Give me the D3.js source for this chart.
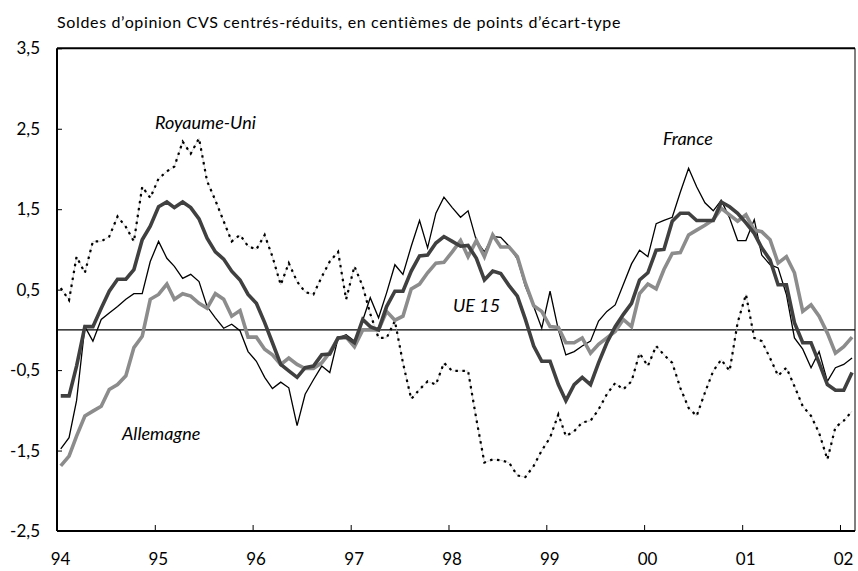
<!DOCTYPE html>
<html>
<head>
<meta charset="utf-8">
<script src="https://cdn.jsdelivr.net/npm/d3@7"></script>
<style>
  html, body { margin: 0; padding: 0; background: #fff; }
  svg { display: block; font-family: Lato, "Open Sans", sans-serif; }
</style>
</head>
<body>
<div id="chart"></div>
<script>
// monthly data, January 1994 to February 2002
const startYear = 1994;
const yTicks = [-2.5, -1.5, -0.5, 0.5, 1.5, 2.5, 3.5];

const ue15 = [
  -0.82, -0.82, -0.45, 0.04, 0.04, 0.27, 0.48, 0.63, 0.63, 0.75, 1.12, 1.29,
  1.53, 1.59, 1.52, 1.59, 1.52, 1.38, 1.14, 0.97, 0.88, 0.73, 0.62, 0.44,
  0.33, 0.09, -0.16, -0.43, -0.51, -0.59, -0.47, -0.45, -0.31, -0.30, -0.10, -0.09,
  -0.16, 0.13, 0.04, 0.00, 0.29, 0.48, 0.48, 0.73, 0.92, 0.93, 1.08, 1.16,
  1.10, 1.04, 1.05, 0.89, 0.62, 0.73, 0.70, 0.55, 0.42, 0.13, -0.20, -0.39,
  -0.39, -0.68, -0.88, -0.68, -0.59, -0.68, -0.41, -0.16, 0.04, 0.19, 0.33, 0.62,
  0.71, 0.99, 1.00, 1.35, 1.45, 1.45, 1.36, 1.36, 1.36, 1.59, 1.53, 1.45,
  1.33, 1.20, 1.02, 0.87, 0.56, 0.56, 0.09, -0.16, -0.16, -0.41, -0.68, -0.75,
  -0.75, -0.53
];

const allemagne = [
  -1.69, -1.57, -1.32, -1.07, -1.01, -0.95, -0.74, -0.68, -0.57, -0.22, -0.08, 0.38,
  0.44, 0.57, 0.38, 0.45, 0.42, 0.33, 0.27, 0.45, 0.38, 0.17, 0.24, -0.09,
  -0.09, -0.24, -0.31, -0.43, -0.35, -0.43, -0.48, -0.48, -0.41, -0.28, -0.10, -0.09,
  -0.21, 0.00, 0.00, 0.00, 0.23, 0.12, 0.17, 0.51, 0.57, 0.71, 0.83, 0.84,
  0.97, 1.11, 0.91, 1.11, 0.91, 1.18, 1.03, 1.03, 0.91, 0.58, 0.30, 0.23,
  0.04, 0.03, -0.16, -0.16, -0.10, -0.29, -0.18, -0.10, -0.02, 0.13, 0.04, 0.45,
  0.57, 0.51, 0.75, 0.95, 0.96, 1.18, 1.24, 1.30, 1.37, 1.51, 1.43, 1.35,
  1.43, 1.24, 1.22, 1.12, 0.83, 0.91, 0.71, 0.23, 0.31, 0.17, -0.04, -0.29,
  -0.21, -0.09
];

const france = [
  -1.48, -1.34, -0.88, 0.04, -0.14, 0.13, 0.21, 0.29, 0.38, 0.45, 0.45, 0.85,
  1.10, 0.89, 0.79, 0.64, 0.69, 0.60, 0.29, 0.15, 0.02, 0.07, -0.01, -0.27,
  -0.39, -0.59, -0.73, -0.65, -0.72, -1.19, -0.80, -0.62, -0.45, -0.53, -0.10, -0.06,
  -0.14, 0.12, 0.40, 0.15, 0.46, 0.81, 0.69, 1.04, 1.36, 1.02, 1.45, 1.65,
  1.52, 1.40, 1.48, 1.11, 0.97, 1.16, 1.15, 1.04, 0.88, 0.54, 0.29, 0.02,
  0.48, 0.00, -0.31, -0.27, -0.20, -0.14, 0.11, 0.23, 0.31, 0.56, 0.82, 0.99,
  0.91, 1.32, 1.36, 1.40, 1.71, 2.01, 1.78, 1.58, 1.48, 1.61, 1.39, 1.11,
  1.11, 1.37, 0.93, 0.81, 0.77, 0.44, -0.10, -0.24, -0.47, -0.27, -0.64, -0.47,
  -0.43, -0.35
];

const royaumeUni = [
  0.52, 0.37, 0.91, 0.71, 1.10, 1.10, 1.16, 1.41, 1.28, 1.10, 1.78, 1.64,
  1.88, 1.97, 2.03, 2.34, 2.19, 2.38, 1.85, 1.61, 1.35, 1.10, 1.18, 1.04,
  1.00, 1.18, 0.91, 0.56, 0.83, 0.60, 0.47, 0.44, 0.66, 0.85, 0.97, 0.38,
  0.79, 0.54, 0.20, -0.10, -0.10, 0.11, -0.41, -0.86, -0.74, -0.64, -0.68, -0.41,
  -0.51, -0.51, -0.51, -1.11, -1.65, -1.61, -1.62, -1.65, -1.81, -1.83, -1.69, -1.50,
  -1.34, -1.05, -1.32, -1.26, -1.15, -1.13, -0.99, -0.80, -0.66, -0.74, -0.64, -0.29,
  -0.45, -0.20, -0.31, -0.41, -0.72, -0.97, -1.07, -0.78, -0.51, -0.37, -0.51, 0.09,
  0.44, -0.10, -0.14, -0.35, -0.57, -0.47, -0.70, -0.95, -1.07, -1.28, -1.61, -1.21,
  -1.13, -1.01
];

const width = 858, height = 571;
const plotLeft = 57, plotRight = 855, plotTop = 48.3, plotBottom = 531;

const svg = d3.select("#chart").append("svg")
  .attr("width", width)
  .attr("height", height);

const x = d3.scaleTime()
  .domain([new Date(startYear, 0, 1), new Date(2002, 1, 26)])
  .range([plotLeft, plotRight]);

const y = d3.scaleLinear()
  .domain([-2.5, 3.5])
  .range([plotBottom, plotTop]);

const fr = d3.formatLocale({ decimal: ",", thousands: " ", grouping: [3], currency: ["", ""], minus: "-" });

const monthDate = i => new Date(startYear, i, 15);

// title
svg.append("text")
  .attr("x", plotLeft)
  .attr("y", 28)
  .attr("font-size", 16)
  .attr("letter-spacing", 0.65)
  .attr("fill", "#000")
  .text("Soldes d’opinion CVS centrés-réduits, en centièmes de points d’écart-type");

// zero line
svg.append("line")
  .attr("x1", plotLeft).attr("x2", plotRight)
  .attr("y1", y(0)).attr("y2", y(0))
  .attr("stroke", "#000").attr("stroke-width", 1.3);

const line = d3.line()
  .x((d, i) => x(monthDate(i)))
  .y(d => y(d));

// Royaume-Uni, dotted
svg.append("path")
  .datum(royaumeUni)
  .attr("d", line)
  .attr("fill", "none")
  .attr("stroke", "#bbb")
  .attr("stroke-width", 0.6);
svg.append("path")
  .datum(royaumeUni)
  .attr("d", line)
  .attr("fill", "none")
  .attr("stroke", "#000")
  .attr("stroke-width", 2.2)
  .attr("stroke-dasharray", "2.5,4.5");

// France, thin black
svg.append("path")
  .datum(france)
  .attr("d", line)
  .attr("fill", "none")
  .attr("stroke", "#000")
  .attr("stroke-width", 1.3);

// Allemagne, light grey
svg.append("path")
  .datum(allemagne)
  .attr("d", line)
  .attr("fill", "none")
  .attr("stroke", "#8c8c8c")
  .attr("stroke-width", 3.6);

// UE 15, dark grey
svg.append("path")
  .datum(ue15)
  .attr("d", line)
  .attr("fill", "none")
  .attr("stroke", "#404040")
  .attr("stroke-width", 3.6);

// frame
svg.append("line")
  .attr("x1", plotLeft).attr("x2", plotRight)
  .attr("y1", plotTop).attr("y2", plotTop)
  .attr("stroke", "#000").attr("stroke-width", 2);
svg.append("line")
  .attr("x1", plotRight).attr("x2", plotRight)
  .attr("y1", plotTop).attr("y2", plotBottom)
  .attr("stroke", "#000").attr("stroke-width", 1);

// axes
const yAxis = svg.append("g")
  .attr("transform", `translate(${plotLeft},0)`)
  .call(d3.axisLeft(y).tickValues(yTicks).tickFormat(fr.format(".1f")).tickSize(-5).tickPadding(17));

const xAxis = svg.append("g")
  .attr("transform", `translate(0,${plotBottom})`)
  .call(d3.axisBottom(x).ticks(d3.timeYear.every(1)).tickFormat(d3.timeFormat("%y")).tickSize(-6).tickPadding(22));

[yAxis, xAxis].forEach(g => {
  g.select(".domain").attr("stroke", "#000").attr("stroke-width", 2);
  g.selectAll(".tick line").attr("stroke", "#000").attr("stroke-width", 1);
  g.selectAll(".tick text")
    .attr("fill", "#000")
    .attr("font-size", 17)
    .attr("font-family", "Lato, 'Open Sans', sans-serif");
});
xAxis.selectAll(".tick text").attr("dx", 3);
yAxis.select(".domain").attr("d", `M0,${plotTop}V${plotBottom}`);
xAxis.select(".domain").attr("d", `M${plotLeft},0H${plotRight}`);

// series labels
const labels = [
  { text: "Royaume-Uni", x: 155, y: 129 },
  { text: "France", x: 663, y: 145 },
  { text: "UE 15", x: 453, y: 312 },
  { text: "Allemagne", x: 122, y: 440 }
];
svg.selectAll(".lbl")
  .data(labels)
  .join("text")
  .attr("class", "lbl")
  .attr("x", d => d.x)
  .attr("y", d => d.y)
  .attr("font-size", 18)
  .attr("font-style", "italic")
  .attr("fill", "#000")
  .text(d => d.text);
</script>
</body>
</html>
